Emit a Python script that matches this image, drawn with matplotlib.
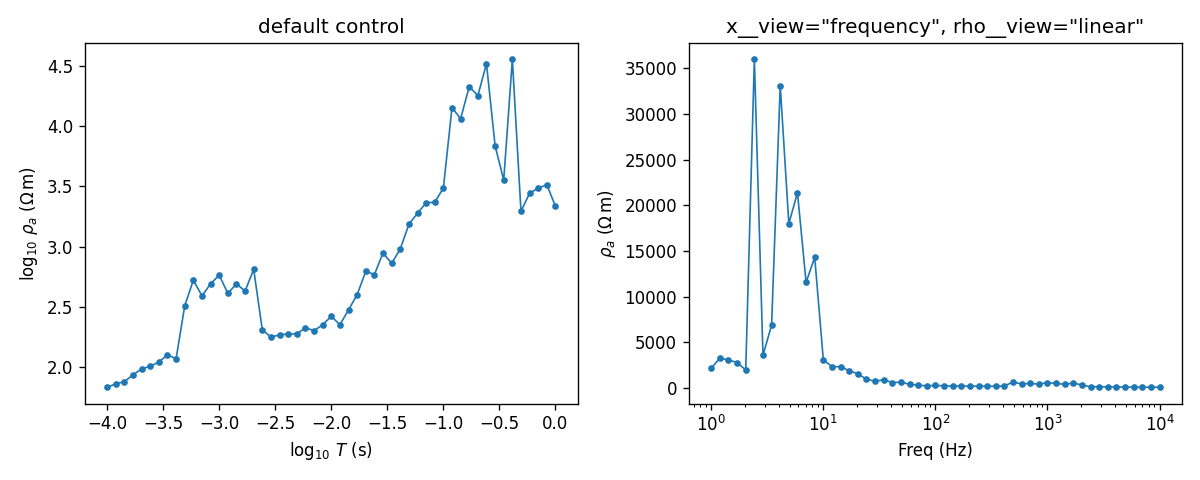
import numpy as np
import matplotlib
matplotlib.use("Agg")
import matplotlib.pyplot as plt

# log10 of period, evenly spaced from 1e-4 s to 1 s (53 samples)
period = np.logspace(-4, 0, 53)

# apparent resistivity, log10 (ohm m)
log_rho = [
    1.83, 1.858, 1.877, 1.933, 1.983, 2.005, 2.04, 2.10, 2.067, 2.507,
    2.72, 2.59, 2.69, 2.763, 2.61, 2.69, 2.63, 2.81, 2.307, 2.248,
    2.265, 2.273, 2.273, 2.326, 2.30, 2.35, 2.42, 2.35, 2.474, 2.60,
    2.794, 2.767, 2.947, 2.86, 2.98, 3.185, 3.277, 3.363, 3.369, 3.486,
    4.155, 4.063, 4.33, 4.255, 4.52, 3.837, 3.553, 4.556, 3.293, 3.443,
    3.486, 3.513, 3.335,
]

log_rho = np.array(log_rho)
rho = 10 ** log_rho
freq = 1.0 / period

fig, (ax1, ax2) = plt.subplots(1, 2, figsize=(10, 4), dpi=120)

# left: default log-log style
ax1.plot(np.log10(period), log_rho, marker="o", markersize=3, linewidth=1)
ax1.set_title("default control")
ax1.set_xlabel(r"$\log_{10}\,T$ (s)")
ax1.set_ylabel(r"$\log_{10}\,\rho_a$ ($\Omega\,$m)")

# right: frequency on log axis, rho linear
ax2.plot(freq, rho, marker="o", markersize=3, linewidth=1)
ax2.set_xscale("log")
ax2.set_title('x__view="frequency", rho__view="linear"')
ax2.set_xlabel("Freq (Hz)")
ax2.set_ylabel(r"$\rho_a$ ($\Omega\,$m)")

fig.tight_layout()
fig.savefig("out.png")
